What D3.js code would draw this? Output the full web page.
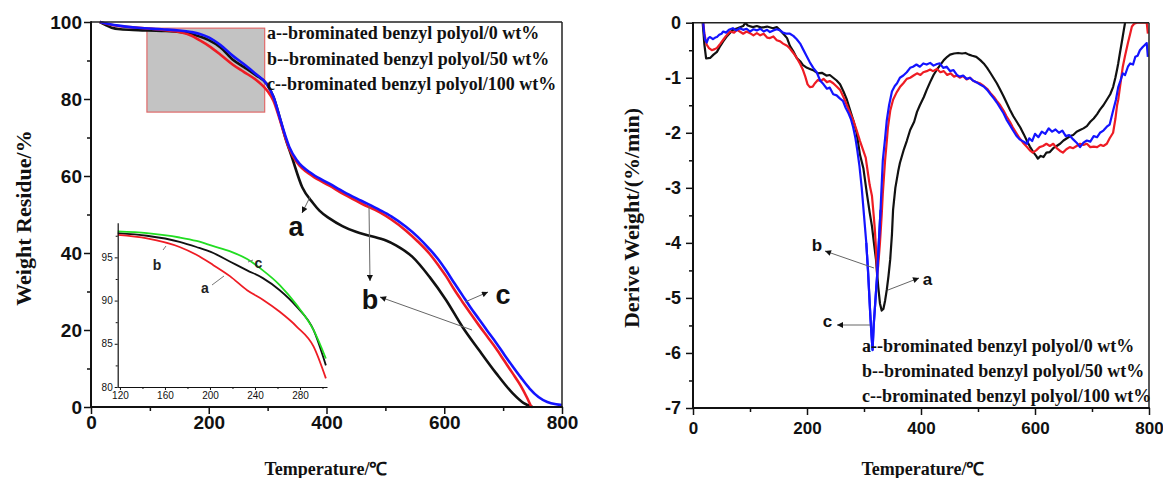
<!DOCTYPE html>
<html>
<head>
<meta charset="utf-8">
<script src="https://cdn.jsdelivr.net/npm/d3@7"></script>
<style>
  html, body { margin: 0; padding: 0; background: #fff; }
  svg { display: block; }
</style>
</head>
<body>
<script>
// ---------------- DATA ----------------
// TG curves (left chart): temperature (°C) and weight residue (%)
const tgTempA = [15,25,35,50,80,120,150,170,185,200,220,241,260,280,298,310,320,330,341,359,377,388,405,427,450,473,500,518,546,575,603,631,659,688,716,735,750];
const tgA     = [100,99.2,98.5,98.1,97.9,97.7,97.4,96.9,96.2,95.3,93.4,90.2,88.3,86.2,84,80.5,75.5,70,65,57,53,51,49,47,45.5,44.5,43.3,42,39,33.8,27.8,20.8,14.8,8.8,3.6,1.0,0];
const tgTempB = [15,30,50,80,120,150,170,185,200,220,241,260,280,292,300,310,320,330,337,350,376,405,430,460,490,510,535,555,575,590,603,617,631,645,659,673,688,702,716,730,740,748];
const tgB     = [100,99.4,98.9,98.5,98.0,97.4,96.5,95.2,93.8,91.5,88.9,87.0,85.0,83.4,82,79.5,75,70,67,63.5,60,57.5,55.2,52.8,50.6,48.7,45.8,43,39.8,36.8,34.0,30.5,27.3,24.2,21.2,18.3,15.2,12,8.8,5.5,2.6,0];
const tgTempC = [15,30,50,80,120,150,170,185,200,220,241,260,280,298,310,320,330,337,350,376,405,430,460,490,510,535,555,575,590,603,617,631,645,659,673,688,702,716,730,745,760,775,790,800];
const tgC     = [100,99.5,99.0,98.5,98.1,97.8,97.4,96.9,96.0,94.0,91.2,89,86.5,84,80.5,75.5,70.5,67.5,64,60.5,58,55.8,53.5,51.2,49.5,46.8,44.2,41,38.3,35.5,32.2,29,25.8,22.8,19.8,16.7,13.6,10.6,7.7,4.8,2.6,1.3,0.7,0.5];

// Inset (zoom of 120-300 °C)
const insetTemp = [118,144,173,188,203,218,233,247,262,277,292,303];
const insetA = [97.6,97.2,96.2,95.3,94.1,92.8,91.2,90.1,88.7,87.0,84.7,81.0]; // red
const insetB = [97.8,97.5,96.8,96.2,95.5,94.5,93.5,92.6,91.2,89.3,86.6,82.5]; // black
const insetC = [98.0,97.8,97.3,96.9,96.3,95.7,94.8,93.5,91.8,89.5,86.6,83.3]; // green

// DTG curves (right chart): [temperature, derivative weight %/min]
const dtgA = [[17,0],[20,-0.4],[23,-0.65],[30,-0.64],[36,-0.58],[42,-0.53],[48,-0.42],[53,-0.34],[60,-0.24],[70,-0.13],[78,-0.1],[88,-0.06],[92,0],[96,-0.05],[105,-0.08],[112,-0.06],[120,-0.09],[130,-0.07],[140,-0.1],[147,-0.08],[153,-0.14],[160,-0.22],[165,-0.28],[170,-0.42],[176,-0.52],[182,-0.64],[188,-0.7],[193,-0.77],[200,-0.82],[205,-0.84],[212,-0.87],[219,-0.92],[226,-0.91],[234,-0.96],[240,-0.95],[246,-1.0],[252,-1.05],[258,-1.12],[264,-1.25],[270,-1.4],[276,-1.6],[282,-1.8],[287,-2.0],[293,-2.4],[299,-2.65],[305,-3.1],[310,-3.45],[314,-3.7],[318,-4.05],[321,-4.3],[325,-4.8],[328,-5.1],[331,-5.23],[334,-5.2],[337,-5.05],[340,-4.85],[343,-4.6],[346,-4.3],[349,-3.85],[351,-3.4],[355,-3.0],[360,-2.7],[363,-2.55],[370,-2.3],[375,-2.15],[381,-1.95],[388,-1.8],[393,-1.62],[398,-1.5],[405,-1.35],[410,-1.22],[416,-1.08],[422,-0.95],[428,-0.85],[433,-0.78],[440,-0.68],[446,-0.62],[451,-0.58],[458,-0.56],[465,-0.55],[472,-0.56],[478,-0.55],[484,-0.58],[490,-0.6],[497,-0.62],[504,-0.68],[510,-0.74],[516,-0.82],[521,-0.9],[527,-1.0],[533,-1.1],[539,-1.22],[545,-1.34],[550,-1.45],[556,-1.58],[562,-1.7],[568,-1.8],[574,-1.9],[580,-2.02],[586,-2.15],[591,-2.25],[597,-2.35],[602,-2.42],[605,-2.47],[610,-2.42],[615,-2.44],[620,-2.36],[626,-2.35],[632,-2.28],[638,-2.24],[644,-2.2],[650,-2.14],[656,-2.1],[662,-2.06],[667,-2.04],[673,-1.98],[679,-1.95],[685,-1.92],[691,-1.88],[697,-1.8],[703,-1.74],[709,-1.66],[714,-1.58],[720,-1.5],[726,-1.4],[732,-1.3],[737,-1.17],[741,-1.0],[744,-0.85],[746,-0.74],[749,-0.55],[753,-0.31],[756,-0.12],[758,0],[765,0.3]];
const dtgB = [[18,0],[20,-0.2],[24,-0.4],[28,-0.46],[33,-0.5],[38,-0.48],[42,-0.46],[48,-0.38],[53,-0.31],[58,-0.24],[65,-0.16],[72,-0.18],[77,-0.13],[82,-0.16],[88,-0.2],[94,-0.16],[100,-0.19],[106,-0.23],[112,-0.19],[118,-0.23],[124,-0.2],[130,-0.27],[135,-0.28],[141,-0.25],[147,-0.32],[153,-0.34],[158,-0.38],[165,-0.42],[170,-0.47],[176,-0.55],[182,-0.64],[188,-0.75],[193,-0.86],[197,-0.98],[201,-1.12],[205,-1.17],[210,-1.16],[214,-1.1],[219,-1.04],[224,-1.06],[229,-1.02],[235,-1.08],[240,-1.06],[246,-1.1],[252,-1.16],[258,-1.22],[264,-1.35],[270,-1.5],[276,-1.65],[281,-1.77],[287,-1.95],[293,-2.15],[298,-2.3],[303,-2.45],[307,-2.74],[310,-2.95],[314,-3.15],[317,-3.5],[319,-3.75],[321,-4.1],[322,-4.35],[323,-4.6],[325,-4.4],[328,-4.0],[331,-3.5],[333,-3.1],[335,-2.8],[337,-2.5],[340,-2.15],[342,-1.9],[346,-1.6],[351,-1.4],[357,-1.27],[363,-1.17],[369,-1.1],[375,-1.02],[381,-1.0],[387,-0.96],[393,-0.92],[399,-0.95],[404,-0.9],[410,-0.88],[416,-0.85],[421,-0.88],[428,-0.84],[434,-0.9],[440,-0.88],[446,-0.95],[452,-0.92],[458,-0.98],[463,-0.96],[468,-1.0],[474,-0.97],[480,-1.03],[486,-1.0],[491,-1.05],[497,-1.08],[503,-1.1],[510,-1.15],[516,-1.2],[522,-1.28],[528,-1.35],[533,-1.42],[539,-1.5],[545,-1.6],[550,-1.7],[556,-1.8],[561,-1.9],[567,-2.0],[573,-2.1],[579,-2.18],[586,-2.26],[591,-2.32],[596,-2.36],[602,-2.32],[608,-2.26],[614,-2.24],[620,-2.2],[626,-2.24],[632,-2.2],[638,-2.28],[644,-2.33],[649,-2.36],[655,-2.3],[661,-2.26],[667,-2.28],[673,-2.24],[679,-2.2],[685,-2.22],[691,-2.2],[697,-2.26],[703,-2.25],[709,-2.26],[715,-2.22],[720,-2.24],[726,-2.2],[731,-2.1],[737,-2.0],[741,-1.75],[744,-1.5],[746,-1.4],[750,-1.1],[754,-0.8],[758,-0.6],[763,-0.37],[767,-0.2],[770,-0.07],[774,-0.02],[779,0],[788,0],[796,0],[798,-0.2]];
const dtgC = [[18,0],[19,-0.15],[21,-0.3],[24,-0.36],[27,-0.28],[30,-0.26],[35,-0.3],[39,-0.27],[42,-0.26],[46,-0.22],[50,-0.2],[53,-0.16],[58,-0.18],[63,-0.13],[70,-0.1],[76,-0.14],[82,-0.1],[88,-0.13],[94,-0.11],[100,-0.16],[106,-0.12],[112,-0.14],[118,-0.11],[124,-0.16],[130,-0.13],[135,-0.17],[141,-0.14],[147,-0.12],[153,-0.14],[158,-0.18],[164,-0.2],[170,-0.2],[176,-0.24],[182,-0.3],[188,-0.38],[193,-0.48],[199,-0.6],[205,-0.72],[211,-0.82],[217,-0.9],[223,-1.05],[229,-1.12],[235,-1.2],[240,-1.18],[246,-1.3],[252,-1.32],[258,-1.38],[263,-1.42],[268,-1.55],[273,-1.65],[277,-1.75],[281,-1.9],[285,-2.1],[288,-2.3],[292,-2.6],[296,-3.0],[300,-3.5],[304,-4.0],[307,-4.5],[309,-4.9],[311,-5.3],[313,-5.65],[315,-5.95],[317,-5.5],[320,-5.05],[323,-4.6],[326,-4.0],[329,-3.4],[331,-2.95],[333,-2.5],[337,-2.1],[340,-1.77],[344,-1.5],[349,-1.25],[354,-1.15],[358,-1.1],[363,-1.0],[369,-0.96],[375,-0.9],[381,-0.82],[386,-0.8],[392,-0.76],[398,-0.8],[404,-0.74],[410,-0.76],[416,-0.73],[422,-0.78],[428,-0.75],[433,-0.74],[439,-0.82],[445,-0.8],[451,-0.88],[457,-0.86],[463,-0.95],[468,-0.98],[474,-0.96],[480,-1.02],[486,-1.0],[491,-1.05],[497,-1.08],[503,-1.12],[510,-1.16],[516,-1.22],[522,-1.3],[528,-1.38],[533,-1.45],[539,-1.55],[545,-1.65],[550,-1.76],[556,-1.86],[561,-1.95],[567,-2.05],[573,-2.12],[580,-2.16],[586,-2.2],[590,-2.1],[595,-2.15],[600,-2.02],[606,-2.08],[612,-1.98],[618,-2.02],[624,-1.92],[630,-1.98],[636,-1.94],[642,-2.0],[648,-1.96],[654,-2.06],[660,-2.04],[667,-2.12],[673,-2.18],[679,-2.26],[685,-2.18],[691,-2.14],[697,-2.16],[703,-2.06],[709,-2.08],[714,-2.0],[720,-1.96],[726,-1.89],[731,-1.85],[737,-1.6],[742,-1.4],[746,-1.17],[750,-1.05],[754,-0.92],[758,-0.95],[763,-0.8],[767,-0.74],[772,-0.76],[776,-0.62],[780,-0.6],[784,-0.5],[789,-0.44],[793,-0.4],[796,-0.37],[798,-0.62]];

// Tick values and text
const xTicks = [0,200,400,600,800];
const xMinor = [100,300,500,700];
const tgTicks = [0,20,40,60,80,100];
const tgMinor = [10,30,50,70,90];
const dtgTicks = [0,-1,-2,-3,-4,-5,-6,-7];
const dtgMinor = [-0.5,-1.5,-2.5,-3.5,-4.5,-5.5,-6.5];
const insetXTicks = [120,160,200,240,280];
const insetXMinor = [140,180,220,260,300];
const insetYTicks = [80,85,90,95];
const insetYMinor = [82.5,87.5,92.5,97.5];
const legendLines = ["a--brominated benzyl polyol/0 wt%","b--brominated benzyl polyol/50 wt%","c--brominated benzyl polyol/100 wt%"];
const zoomBox = {x0:95, x1:295, y0:76.6, y1:98.4};

// ---------------- DRAWING ----------------
const W = 1163, H = 478;
const svg = d3.select("body").append("svg").attr("width", W).attr("height", H);
const SANS = "'Liberation Sans', Arial, sans-serif";
const SERIF = "'Liberation Serif', 'Times New Roman', serif";
const RED = "#ee1c24", BLUE = "#1414ff", BLACK = "#111", GREEN = "#22dd22";

const defs = svg.append("defs");
defs.append("marker").attr("id","arr").attr("viewBox","0 0 10 10").attr("refX",10).attr("refY",5)
  .attr("markerWidth",7).attr("markerHeight",6).attr("orient","auto").attr("markerUnits","userSpaceOnUse")
  .append("path").attr("d","M0,0 L10,5 L0,10 z").attr("fill","#111");

// scales
const xL = d3.scaleLinear().domain([0,800]).range([91,562]);
const yL = d3.scaleLinear().domain([0,100]).range([407,22]);
const xR = d3.scaleLinear().domain([0,800]).range([693,1149]);
const yR = d3.scaleLinear().domain([-7,0]).range([408,22.7]);
const xI = d3.scaleLinear().domain([118,304]).range([117.7,327]);
const yI = d3.scaleLinear().domain([80,99]).range([387,222.8]);

function styleTicks(g, size, weight) {
  g.selectAll("text").attr("font-family", SANS).attr("font-size", size).attr("font-weight", weight).attr("fill","#111");
  g.selectAll("line").attr("stroke","#111").attr("stroke-width",1.5);
}

function frame(x, y) {
  const [x0,x1] = x.range(), [y0,y1] = y.range();
  const g = svg.append("g");
  g.append("line").attr("x1",x0).attr("x2",x1).attr("y1",y1).attr("y2",y1).attr("stroke","#222").attr("stroke-width",1.5);
  g.append("line").attr("x1",x1).attr("x2",x1).attr("y1",y1).attr("y2",y0).attr("stroke","#222").attr("stroke-width",1.5);
  g.append("line").attr("x1",x0).attr("x2",x0).attr("y1",y1-0.75).attr("y2",y0+1).attr("stroke","#111").attr("stroke-width",2);
  g.append("line").attr("x1",x0-1).attr("x2",x1+0.75).attr("y1",y0).attr("y2",y0).attr("stroke","#111").attr("stroke-width",2);
}

function axes(x, y, yT, yM, xPad, yPad, fmtY, xSize, ySize) {
  const [x0] = x.range(), [y0] = y.range();
  svg.append("g").attr("transform",`translate(${x0},0)`)
    .call(d3.axisLeft(y).tickValues(yT).tickSize(7).tickPadding(yPad).tickFormat(fmtY))
    .call(g => { g.select(".domain").remove(); styleTicks(g, ySize, "bold"); });
  svg.append("g").attr("transform",`translate(${x0},0)`)
    .call(d3.axisLeft(y).tickValues(yM).tickSize(4).tickFormat(""))
    .call(g => { g.select(".domain").remove(); styleTicks(g, ySize, "bold"); });
  svg.append("g").attr("transform",`translate(0,${y0})`)
    .call(d3.axisBottom(x).tickValues(xTicks).tickSize(7).tickPadding(xPad).tickFormat(d => String(d)))
    .call(g => { g.select(".domain").remove(); styleTicks(g, xSize, "bold"); });
  svg.append("g").attr("transform",`translate(0,${y0})`)
    .call(d3.axisBottom(x).tickValues(xMinor).tickSize(4).tickFormat(""))
    .call(g => { g.select(".domain").remove(); styleTicks(g, xSize, "bold"); });
}

// ===== LEFT CHART =====
// zoom rectangle
svg.append("rect")
  .attr("x", xL(zoomBox.x0)).attr("y", yL(zoomBox.y1))
  .attr("width", xL(zoomBox.x1)-xL(zoomBox.x0)).attr("height", yL(zoomBox.y0)-yL(zoomBox.y1))
  .attr("fill","#c3c3c3").attr("stroke","#e06a6a").attr("stroke-width",1.2);

const lineL = d3.line().x(d => xL(d[0])).y(d => yL(d[1])).curve(d3.curveMonotoneX);
const zip = (t, v) => t.map((d,i) => [d, v[i]]);
[[zip(tgTempA,tgA),BLACK],[zip(tgTempB,tgB),RED],[zip(tgTempC,tgC),BLUE]].forEach(([d,c]) => {
  svg.append("path").datum(d).attr("d", lineL).attr("fill","none").attr("stroke",c).attr("stroke-width",2.6).attr("stroke-linejoin","round");
});

frame(xL, yL);
axes(xL, yL, tgTicks, tgMinor, 2, 2, d => String(d), 19, 19);

// legend
legendLines.forEach((t,i) => {
  svg.append("text").attr("x",267).attr("y",39 + i*25.5).text(t)
    .attr("font-family",SERIF).attr("font-size",18).attr("font-weight","bold").attr("fill","#111");
});

// inset
const lineI = d3.line().x(d => xI(d[0])).y(d => yI(d[1])).curve(d3.curveMonotoneX);
[[insetB,BLACK],[insetC,GREEN],[insetA,RED]].forEach(([v,c]) => {
  svg.append("path").datum(zip(insetTemp,v)).attr("d", lineI).attr("fill","none").attr("stroke",c).attr("stroke-width",1.8);
});
svg.append("g").attr("transform",`translate(${xI.range()[0]},0)`)
  .call(d3.axisLeft(yI).tickValues(insetYTicks).tickSize(3).tickSizeOuter(0).tickPadding(2).tickFormat(d => String(d)))
  .call(g => { styleTicks(g, 10, "normal"); g.select(".domain").attr("stroke","#111").attr("stroke-width",1.2); g.selectAll("line").attr("stroke-width",1); });
svg.append("g").attr("transform",`translate(${xI.range()[0]},0)`)
  .call(d3.axisLeft(yI).tickValues(insetYMinor).tickSize(2).tickSizeOuter(0).tickFormat(""))
  .call(g => { g.select(".domain").remove(); g.selectAll("line").attr("stroke","#111"); });
svg.append("g").attr("transform",`translate(0,${yI.range()[0]})`)
  .call(d3.axisBottom(xI).tickValues(insetXTicks).tickSize(3).tickSizeOuter(0).tickPadding(2).tickFormat(d => String(d)))
  .call(g => { styleTicks(g, 10, "normal"); g.select(".domain").attr("stroke","#111").attr("stroke-width",1.2); g.selectAll("line").attr("stroke-width",1); });
svg.append("g").attr("transform",`translate(0,${yI.range()[0]})`)
  .call(d3.axisBottom(xI).tickValues(insetXMinor).tickSize(2).tickSizeOuter(0).tickFormat(""))
  .call(g => { g.select(".domain").remove(); g.selectAll("line").attr("stroke","#111"); });

// inset labels
const insetLabels = [
  {t:"b", x:157, y:270, l:[163,250,166,246]},
  {t:"c", x:258.5, y:268, l:[248,262,253,260]},
  {t:"a", x:205, y:293, l:[212,285,224,276]}
];
insetLabels.forEach(d => {
  svg.append("text").attr("x",d.x).attr("y",d.y).attr("text-anchor","middle").text(d.t)
    .attr("font-family",SANS).attr("font-size",14).attr("font-weight","bold").attr("fill","#222");
  svg.append("line").attr("x1",d.l[0]).attr("y1",d.l[1]).attr("x2",d.l[2]).attr("y2",d.l[3]).attr("stroke","#777").attr("stroke-width",1);
});

// main labels + arrows (left)
const bigLabels = [{t:"a",x:296,y:236},{t:"b",x:370,y:309},{t:"c",x:503,y:304}];
bigLabels.forEach(d => svg.append("text").attr("x",d.x).attr("y",d.y).attr("text-anchor","middle").text(d.t)
  .attr("font-family",SANS).attr("font-size",27).attr("font-weight","bold").attr("fill","#111"));
const arrowsL = [[310,197,302,213],[369,206,370,281],[472,330,380,297],[465,302,488,292]];
arrowsL.forEach(a => svg.append("line").attr("x1",a[0]).attr("y1",a[1]).attr("x2",a[2]).attr("y2",a[3])
  .attr("stroke","#666").attr("stroke-width",1).attr("marker-end","url(#arr)"));

// titles
svg.append("text").attr("transform","translate(31,218) rotate(-90)").attr("text-anchor","middle").text("Weight Residue/%")
  .attr("font-family",SERIF).attr("font-size",22).attr("font-weight","bold").attr("fill","#111");
svg.append("text").attr("x",326).attr("y",475).attr("text-anchor","middle").text("Temperature/℃")
  .attr("font-family",SERIF).attr("font-size",18).attr("font-weight","bold").attr("fill","#111");

// ===== RIGHT CHART =====
defs.append("clipPath").attr("id","clipR").append("rect")
  .attr("x",693).attr("y",22.7).attr("width",456).attr("height",408-22.7);
const lineR = d3.line().x(d => xR(d[0])).y(d => yR(d[1]));
const gR = svg.append("g").attr("clip-path","url(#clipR)");
[[dtgA,BLACK],[dtgB,RED],[dtgC,BLUE]].forEach(([d,c]) => {
  gR.append("path").datum(d).attr("d", lineR).attr("fill","none").attr("stroke",c).attr("stroke-width",2.2).attr("stroke-linejoin","round");
});

frame(xR, yR);
axes(xR, yR, dtgTicks, dtgMinor, 7, 5, d => String(d), 17, 18);

legendLines.forEach((t,i) => {
  svg.append("text").attr("x",862).attr("y",352 + i*25).text(t)
    .attr("font-family",SERIF).attr("font-size",18).attr("font-weight","bold").attr("fill","#111");
});
// blue trough drawn again over the legend "a", as in the reference
gR.append("path").datum(dtgC.filter(d => d[0] > 300 && d[0] < 330)).attr("d", lineR).attr("fill","none").attr("stroke",BLUE).attr("stroke-width",2.2);

const smallLabels = [{t:"b",x:817,y:251},{t:"a",x:927.5,y:285},{t:"c",x:827.5,y:327}];
smallLabels.forEach(d => svg.append("text").attr("x",d.x).attr("y",d.y).attr("text-anchor","middle").text(d.t)
  .attr("font-family",SANS).attr("font-size",17).attr("font-weight","bold").attr("fill","#111"));
const arrowsR = [[874,268,825,251],[888,290,919,278],[870,325,837,325]];
arrowsR.forEach(a => svg.append("line").attr("x1",a[0]).attr("y1",a[1]).attr("x2",a[2]).attr("y2",a[3])
  .attr("stroke","#666").attr("stroke-width",1).attr("marker-end","url(#arr)"));

svg.append("text").attr("transform","translate(639,218) rotate(-90)").attr("text-anchor","middle").text("Derive Weight/(%/min)")
  .attr("font-family",SERIF).attr("font-size",22).attr("font-weight","bold").attr("fill","#111");
svg.append("text").attr("x",923).attr("y",475).attr("text-anchor","middle").text("Temperature/℃")
  .attr("font-family",SERIF).attr("font-size",18).attr("font-weight","bold").attr("fill","#111");
</script>
</body>
</html>
